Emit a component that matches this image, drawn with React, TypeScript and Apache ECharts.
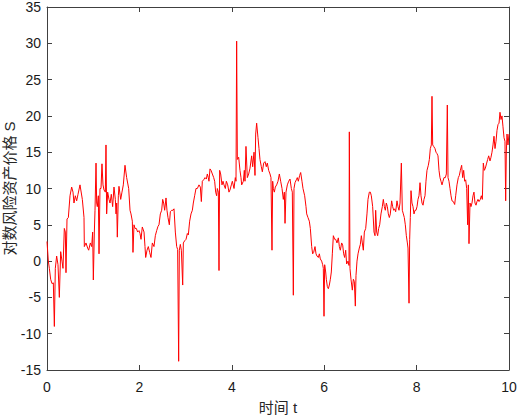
import React, { useEffect, useRef } from "react";
import * as echarts from "echarts";

const tValues: number[] = [
  0, 0.029, 0.051, 0.079, 0.108, 0.137, 0.159, 0.18, 0.209, 0.238, 0.267, 0.296, 0.325, 0.346, 0.375, 0.397, 0.411, 0.433, 0.462, 0.498,
  0.534, 0.563, 0.584, 0.613, 0.642, 0.671, 0.714, 0.765, 0.801, 0.808, 0.844, 0.88, 0.902, 0.938, 0.967, 0.988, 1.003, 1.025, 1.039, 1.061,
  1.075, 1.089, 1.111, 1.126, 1.147, 1.169, 1.19, 1.212, 1.234, 1.263, 1.277, 1.291, 1.313, 1.342, 1.364, 1.392, 1.421, 1.45, 1.479, 1.494,
  1.508, 1.522, 1.544, 1.558, 1.595, 1.623, 1.652, 1.688, 1.724, 1.768, 1.797, 1.818, 1.847, 1.861, 1.883, 1.905, 1.934, 1.962, 1.991, 2.013,
  2.035, 2.063, 2.1, 2.121, 2.136, 2.165, 2.193, 2.222, 2.251, 2.28, 2.316, 2.345, 2.374, 2.403, 2.424, 2.453, 2.482, 2.504, 2.525, 2.547,
  2.576, 2.597, 2.619, 2.648, 2.67, 2.698, 2.727, 2.749, 2.778, 2.807, 2.828, 2.85, 2.864, 2.886, 2.908, 2.937, 2.951, 2.98, 3.009, 3.038,
  3.059, 3.088, 3.117, 3.146, 3.167, 3.196, 3.225, 3.254, 3.29, 3.319, 3.341, 3.362, 3.391, 3.42, 3.449, 3.47, 3.492, 3.506, 3.528, 3.55,
  3.579, 3.608, 3.629, 3.651, 3.672, 3.687, 3.709, 3.723, 3.737, 3.759, 3.788, 3.81, 3.831, 3.86, 3.882, 3.911, 3.939, 3.961, 3.99, 4.012,
  4.048, 4.076, 4.091, 4.105, 4.12, 4.149, 4.177, 4.199, 4.214, 4.25, 4.271, 4.286, 4.307, 4.336, 4.365, 4.394, 4.43, 4.452, 4.481, 4.502,
  4.517, 4.538, 4.567, 4.589, 4.61, 4.639, 4.661, 4.69, 4.719, 4.747, 4.769, 4.798, 4.827, 4.848, 4.87, 4.885, 4.899, 4.921, 4.942, 4.971,
  5.0, 5.029, 5.058, 5.087, 5.115, 5.137, 5.152, 5.173, 5.202, 5.231, 5.26, 5.289, 5.31, 5.332, 5.346, 5.368, 5.397, 5.418, 5.44, 5.469,
  5.491, 5.519, 5.541, 5.577, 5.606, 5.621, 5.649, 5.678, 5.7, 5.729, 5.75, 5.772, 5.801, 5.823, 5.844, 5.873, 5.895, 5.916, 5.945, 5.967,
  5.981, 5.996, 6.01, 6.032, 6.046, 6.068, 6.09, 6.111, 6.133, 6.154, 6.176, 6.198, 6.227, 6.248, 6.277, 6.306, 6.328, 6.349, 6.378, 6.4,
  6.421, 6.443, 6.465, 6.486, 6.515, 6.537, 6.544, 6.558, 6.58, 6.609, 6.631, 6.652, 6.674, 6.688, 6.71, 6.732, 6.76, 6.782, 6.804, 6.825,
  6.847, 6.869, 6.898, 6.926, 6.948, 6.977, 6.999, 7.02, 7.049, 7.078, 7.1, 7.114, 7.136, 7.157, 7.179, 7.201, 7.229, 7.258, 7.28, 7.302,
  7.323, 7.345, 7.367, 7.388, 7.41, 7.431, 7.46, 7.482, 7.504, 7.525, 7.547, 7.576, 7.597, 7.619, 7.641, 7.67, 7.691, 7.713, 7.734, 7.756,
  7.778, 7.8, 7.814, 7.836, 7.85, 7.864, 7.879, 7.9, 7.922, 7.944, 7.965, 7.987, 8.009, 8.03, 8.052, 8.074, 8.095, 8.117, 8.139, 8.16,
  8.182, 8.203, 8.225, 8.254, 8.276, 8.297, 8.319, 8.333, 8.348, 8.369, 8.398, 8.42, 8.442, 8.463, 8.485, 8.506, 8.528, 8.55, 8.571, 8.593,
  8.622, 8.644, 8.665, 8.68, 8.701, 8.723, 8.745, 8.766, 8.795, 8.824, 8.846, 8.874, 8.903, 8.925, 8.947, 8.975, 8.997, 9.019, 9.04, 9.062,
  9.084, 9.105, 9.12, 9.134, 9.156, 9.177, 9.199, 9.221, 9.242, 9.264, 9.286, 9.307, 9.329, 9.351, 9.38, 9.401, 9.423, 9.444, 9.466, 9.488,
  9.517, 9.538, 9.56, 9.589, 9.61, 9.632, 9.654, 9.675, 9.697, 9.719, 9.74, 9.762, 9.784, 9.805, 9.827, 9.848, 9.87, 9.892, 9.913, 9.928,
  9.942, 9.957, 9.978, 10.0,
];

const sValues: number[] = [
  2.7, 0, -1, -2.5, -3.1, -3, -9, -1, 0.7, -0.5, -5, 1.3, 0, -1, 4.5, 4, -1.6, 5.8, 6, 9,
  10.2, 9.5, 8, 9, 8.3, 9.2, 10.5, 8.5, 6, 2, 2.5, 1.8, 1.5, 2.5, 2, 4, -2.6, 4, 7, 13.5,
  8, 7.5, 9, 1, 10, 10, 13.4, 10.5, 9.8, 9.5, 16, 6.5, 9.5, 8.5, 8, 9.2, 7.5, 10.2, 8.5, 6.5,
  8, 3.3, 9, 10.3, 8.5, 9.5, 10.5, 13.2, 11.5, 10, 7, 6.5, 5.5, 1.2, 5, 4.5, 4.5, 4, 4.2, 3.8,
  3, 4.7, 4, 2, 0.5, 1.5, 2, 1.2, 0.5, 2.5, 2, 3.5, 4.2, 4.8, 5, 6.5, 7, 8.5, 8, 7,
  8.7, 7, 6, 5, 6.8, 7, 7, 7.2, 4, 2, 1.6, -13.8, 1.5, 2.3, 1.5, -3.3, 2.5, 2.8, 3, 3.8,
  3.6, 5.5, 6.5, 7, 8, 9, 10, 10, 10.5, 10.2, 8.2, 11, 11.2, 11.5, 11.3, 12, 11.5, 11, 12.7, 12.5,
  12, 11.5, 11, 9.5, 9, 10, 9.5, -1.3, 12.5, 12, 10.5, 11, 10.5, 10, 11, 10.5, 9.5, 9.8, 10.5, 11,
  10, 11.5, 11, 30.3, 14, 14.3, 12.5, 11.5, 10.5, 11, 12.5, 11, 15.8, 11.5, 12, 12.8, 14.5, 13, 15, 11.8,
  17.5, 19, 17, 15.5, 14, 13, 12.3, 13.5, 13.7, 13, 13.5, 12.5, 12, 11.5, 1.5, 11, 10, 9.5, 10.2, 10.5,
  11, 12, 11, 10, 8.5, 9.5, 5.2, 9.5, 10.5, 11, 11.3, 10, 9.5, -4.7, 10, 10.8, 11.2, 11.5, 11, 11.8,
  12.2, 11, 10, 9, 7.5, 6.5, 6, 5.5, 4.5, 2, 1, 1.2, 2, 1, 0.7, 0.5, 1, 0.3, 0, -0.5,
  -1, -7.6, -0.5, -1.5, -2.5, -3.5, -3.8, -3.3, -2.5, -1.5, 1, 3.5, 3, 3, 2.5, 3.2, 2, 1.5, 2.5, 2.2,
  1, 0.5, 1.5, -0.4, 0, -0.6, 17.8, -1, -2.5, -4, -2.5, -2.8, -6.2, -2, 0, 1, 1.8, 2.3, 3.5, 2.5,
  1.5, 4, 4.5, 6.5, 8.5, 9.5, 9.5, 9, 7.5, 4, 3.5, 7, 4, 3.5, 4.5, 5, 6.5, 7.5, 8.5, 7.5,
  7, 8, 7.5, 6.5, 6, 6.5, 8.3, 7.5, 7, 7.2, 6.8, 8.3, 7.5, 7, 8, 13.5, 7, 6.5, 6, 5,
  3.5, 2.5, 1.8, -5.8, 3, 6, 9.7, 8, 7.5, 6.5, 7, 7, 7.5, 8.5, 9, 10.8, 9, 8, 7.7, 8.5,
  9, 11, 12.5, 13.2, 14, 15.5, 16, 22.7, 16, 15.8, 15.5, 15, 14.8, 14.5, 12.5, 11.5, 11, 10.5, 11, 11.5,
  11.5, 12, 21.5, 11.5, 11, 10, 9, 8.3, 8.2, 7.8, 9, 10.5, 11.5, 11.8, 12.5, 13.2, 11.5, 12.5, 11, 11.2,
  10, 5, 10.5, 2.4, 8, 7.5, 8, 9, 9.5, 8, 7.7, 8.2, 8.5, 8.2, 8.5, 9, 8.5, 13.5, 12.5, 12.8,
  13.5, 14, 14.5, 13.8, 14.3, 15, 16, 17.2, 15.5, 16.5, 18, 18.8, 19, 20.5, 19.5, 20, 18.5, 17, 16.5, 8.3,
  15, 17.5, 16, 17.5,
];

const xTickMin = 0;
const xTickMax = 10;
const xTickStep = 2;
const yTickMin = -15;
const yTickMax = 35;
const yTickStep = 5;

const xLabel = "时间 t";
const yLabel = "对数风险资产价格 S";

export default function App() {
  const ref = useRef<HTMLDivElement>(null);

  useEffect(() => {
    if (!ref.current) return;
    const chart = echarts.init(ref.current, undefined, { renderer: "svg" });
    const font = "'Liberation Sans', Arial, 'Noto Sans CJK SC', sans-serif";
    const axisColor = "#404040";
    const data = tValues.map((t, i) => [t, sValues[i]]);

    const axisBase = {
      axisLine: { show: true, onZero: false, lineStyle: { color: axisColor, width: 1 } },
      axisTick: { show: true, inside: true, length: 5, lineStyle: { color: axisColor, width: 1 } },
      splitLine: { show: false },
    };

    chart.setOption({
      animation: false,
      backgroundColor: "#ffffff",
      grid: { left: 47, right: 10, top: 7, bottom: 46, containLabel: false, outerBoundsMode: "none" },
      xAxis: [
        {
          type: "value",
          min: xTickMin,
          max: xTickMax,
          interval: xTickStep,
          position: "bottom",
          ...axisBase,
          axisLabel: { color: "#1a1a1a", fontSize: 14, lineHeight: 14, fontFamily: font, margin: 10 },
          name: xLabel,
          nameLocation: "middle",
          nameGap: 30,
          nameMoveOverlap: false,
          nameTextStyle: { color: "#262626", fontSize: 15, fontFamily: font },
        },
        {
          type: "value",
          min: xTickMin,
          max: xTickMax,
          interval: xTickStep,
          position: "top",
          ...axisBase,
          axisLabel: { show: false },
        },
      ],
      yAxis: [
        {
          type: "value",
          min: yTickMin,
          max: yTickMax,
          interval: yTickStep,
          position: "left",
          ...axisBase,
          axisLabel: { color: "#1a1a1a", fontSize: 14, lineHeight: 10, fontFamily: font, margin: 6 },
          name: yLabel,
          nameLocation: "middle",
          nameGap: 30,
          nameMoveOverlap: false,
          nameTextStyle: { color: "#262626", fontSize: 15, fontFamily: font },
        },
        {
          type: "value",
          min: yTickMin,
          max: yTickMax,
          interval: yTickStep,
          position: "right",
          ...axisBase,
          axisLabel: { show: false },
        },
      ],
      series: [
        {
          type: "line",
          xAxisIndex: 0,
          yAxisIndex: 0,
          data,
          showSymbol: false,
          symbol: "none",
          lineStyle: { color: "#ff0000", width: 1 },
          clip: true,
        },
      ],
    });

    return () => {
      chart.dispose();
    };
  }, []);

  return (
    <div
      ref={ref}
      style={{ position: "fixed", left: 0, top: 0, width: 519, height: 416, background: "#fff" }}
    />
  );
}
